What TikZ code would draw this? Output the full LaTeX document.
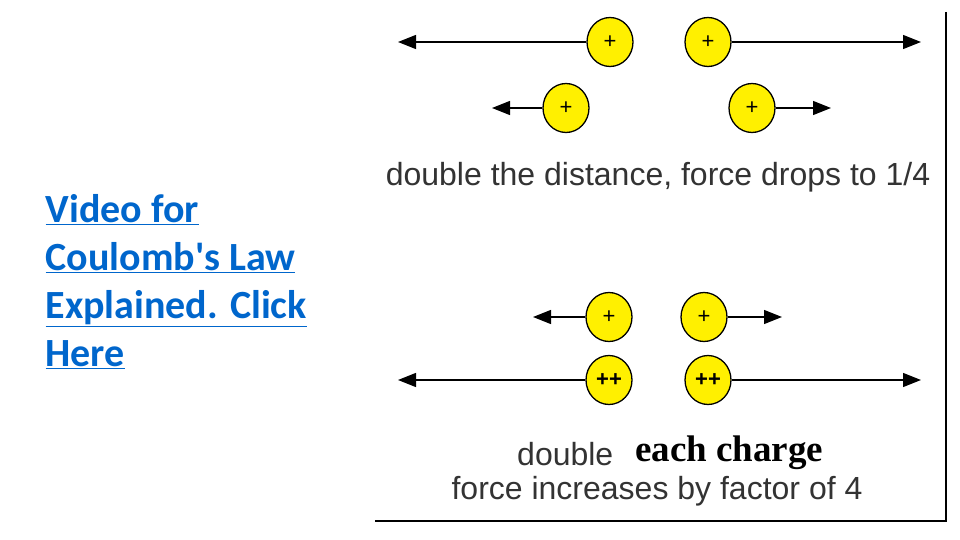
\documentclass[tikz,border=0pt]{standalone}
\usepackage{fontspec}
\setmainfont{Liberation Sans}
\newfontfamily\linkfont{Carlito}
\newfontfamily\serfont{Liberation Serif}
\usetikzlibrary{arrows.meta,shapes.geometric}
\definecolor{linkblue}{RGB}{0,102,204}
\definecolor{chg}{RGB}{255,240,0}
\begin{document}
\begin{tikzpicture}[x=1pt,y=-1pt,
  charge/.style={ellipse,draw=black,line width=1.3pt,fill=chg,minimum width=46pt,minimum height=49pt,inner sep=0pt,font=\fontsize{22}{22}\selectfont},
  force/.style={line width=1.3pt,-{Triangle[length=18pt,width=14pt]}},
  captext/.style={font=\fontsize{32}{32}\selectfont,text=black!80}]
\useasboundingbox (0,0) rectangle (960,540);
\node[charge] (a1) at (610,42) {+};
\node[charge] (a2) at (708,42) {+};
\coordinate (a1e) at (398,42); \coordinate (a2e) at (921,42);
\draw[force] (a1) -- (a1e); \draw[force] (a2) -- (a2e);
\node[charge] (b1) at (566,108) {+};
\node[charge] (b2) at (752,108) {+};
\coordinate (b1e) at (492,108); \coordinate (b2e) at (831,108);
\draw[force] (b1) -- (b1e); \draw[force] (b2) -- (b2e);
\node[captext] (t1) at (658,177) {double the distance, force drops to 1/4};
\node[charge] (c1) at (609,317) {+};
\node[charge] (c2) at (704,317) {+};
\coordinate (c1e) at (533,317); \coordinate (c2e) at (782,317);
\draw[force] (c1) -- (c1e); \draw[force] (c2) -- (c2e);
\node[charge] (d1) at (609,380) {\textbf{++}};
\node[charge] (d2) at (708,380) {\textbf{++}};
\coordinate (d1e) at (398,380); \coordinate (d2e) at (921,380);
\draw[force] (d1) -- (d1e); \draw[force] (d2) -- (d2e);
\node[captext,anchor=base west,inner sep=0pt] (t2) at (517,465) {double};
\node[anchor=base west,inner sep=0pt,font=\serfont\bfseries\fontsize{37}{37}\selectfont] (t3) at (635,461) {each charge};
\node[captext] (t4) at (657,491) {force increases by factor of 4};
\draw[line width=2pt] (946,12) -- (946,521) -- (375,521);
\node[anchor=north west,align=left,text=linkblue,font=\linkfont\bfseries\fontsize{40}{48}\selectfont] (link) at (42,191)
 {\underline{Video for}\\\underline{Coulomb's Law}\\\underline{Explained. Click}\\\underline{Here}};
\end{tikzpicture}
\end{document}
